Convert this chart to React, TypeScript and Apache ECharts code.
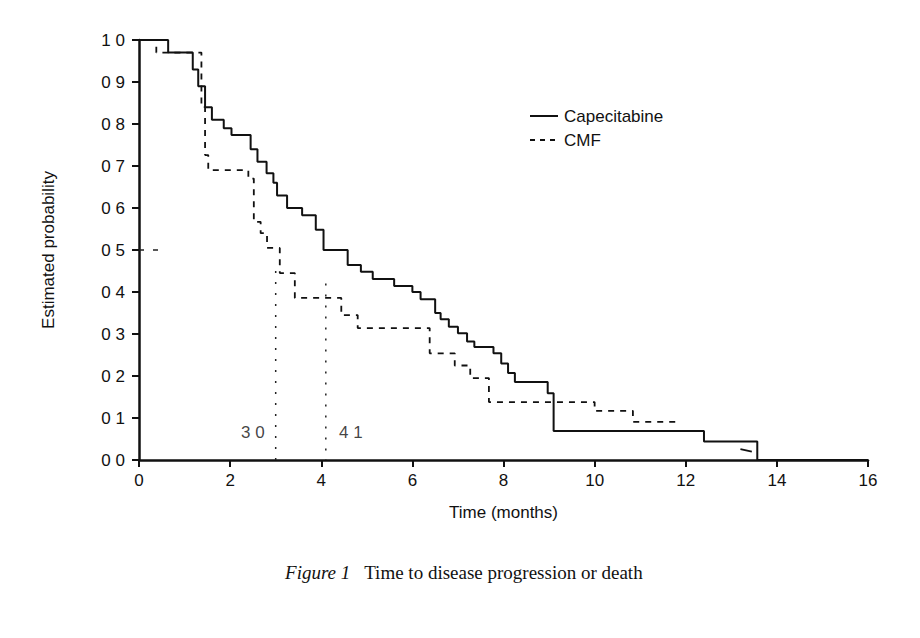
import { useEffect, useRef } from "react";
import * as echarts from "echarts";

// Kaplan-Meier steps: [time in months, probability from that time on]
const capecitabine: [number, number][] = [
  [0, 1.0], [0.64, 0.97], [1.18, 0.93], [1.3, 0.89], [1.45, 0.84], [1.6, 0.81], [1.86, 0.79],
  [2.03, 0.774], [2.45, 0.74], [2.6, 0.71], [2.8, 0.683], [2.95, 0.66], [3.03, 0.63],
  [3.25, 0.6], [3.58, 0.583], [3.88, 0.548], [4.05, 0.5], [4.58, 0.464], [4.87, 0.448],
  [5.13, 0.431], [5.6, 0.414], [6.0, 0.4], [6.18, 0.383], [6.5, 0.35], [6.62, 0.335],
  [6.8, 0.317], [7.0, 0.302], [7.2, 0.282], [7.36, 0.269], [7.78, 0.254], [7.95, 0.23],
  [8.1, 0.207], [8.25, 0.186], [8.97, 0.159], [9.1, 0.069], [12.4, 0.044], [13.57, 0.0],
  [16, 0.0],
];
const cmf: [number, number][] = [
  [0, 1.0], [0.38, 0.97], [1.37, 0.84], [1.45, 0.726], [1.52, 0.69], [2.4, 0.67],
  [2.52, 0.567], [2.67, 0.54], [2.81, 0.505], [3.09, 0.445], [3.42, 0.386], [4.44, 0.345],
  [4.8, 0.314], [6.38, 0.254], [6.93, 0.225], [7.27, 0.195], [7.68, 0.138], [10.0, 0.117],
  [10.84, 0.091], [11.82, 0.091],
];
const cmfTail: [number, number][] = [[13.2, 0.026], [13.45, 0.02]];
const medianCape = 4.1;
const medianCmf = 3.0;
const medianLabels = ["3 0", "4 1"];
const legendNames = ["Capecitabine", "CMF"];

export default function App() {
  const ref = useRef<HTMLDivElement>(null);

  useEffect(() => {
    if (!ref.current) return;
    const chart = echarts.init(ref.current, null, { renderer: "svg" });
    const font = "Liberation Sans";
    const dotted = { color: "#222", width: 1.5, type: [2, 9] as any };
    const legendItem = (name: string, i: number, dash: boolean) => [
      {
        type: "line", shape: { x1: 522, y1: 108 + i * 24, x2: 550, y2: 108 + i * 24 },
        style: { stroke: "#111", lineWidth: dash ? 1.8 : 2, lineDash: dash ? [5, 5] : null },
      },
      {
        type: "text", x: 556, y: 108 + i * 24,
        style: { text: name, font: `17px '${font}'`, fill: "#111", textVerticalAlign: "middle" },
      },
    ];
    chart.setOption({
      animation: false,
      textStyle: { fontFamily: font },
      grid: { left: 131, right: 52, top: 32, bottom: 178 },
      xAxis: {
        type: "value", min: 0, max: 16, interval: 2,
        name: "Time (months)", nameLocation: "middle", nameGap: 44,
        nameTextStyle: { fontSize: 17, color: "#111", fontFamily: font },
        axisLine: { lineStyle: { color: "#111", width: 2.5 } },
        axisTick: { length: 7, lineStyle: { color: "#111", width: 2 } },
        axisLabel: { fontSize: 17, color: "#111", margin: 12 },
        splitLine: { show: false },
      },
      yAxis: {
        type: "value", min: 0, max: 1, interval: 0.1,
        name: "Estimated probability", nameLocation: "middle", nameGap: 82,
        nameTextStyle: { fontSize: 17, color: "#111", fontFamily: font },
        axisLine: { show: true, lineStyle: { color: "#111", width: 2.5 } },
        axisTick: { show: true, length: 7, lineStyle: { color: "#111", width: 2 } },
        axisLabel: {
          fontSize: 17, color: "#111", margin: 14,
          formatter: (v: number) => v.toFixed(1).replace(".", " "),
        },
        splitLine: { show: false },
      },
      graphic: [
        ...legendItem(legendNames[0], 0, false),
        ...legendItem(legendNames[1], 1, true),
        {
          type: "text", left: "center", top: 555,
          style: {
            text: "{i|Figure 1}   Time to disease progression or death",
            font: "19px 'Liberation Serif'", fill: "#111",
            rich: { i: { fontStyle: "italic", fontFamily: "Liberation Serif", fontSize: 19 } },
          },
        },
      ],
      series: [
        {
          name: "Capecitabine", type: "line", step: "end", data: capecitabine,
          symbol: "none", lineStyle: { color: "#111", width: 2 },
        },
        {
          name: "CMF", type: "line", step: "end", data: cmf,
          symbol: "none", lineStyle: { color: "#111", width: 1.8, type: [6, 6] },
        },
        {
          name: "cmfTail", type: "line", data: cmfTail, symbol: "none",
          lineStyle: { color: "#111", width: 1.8 },
        },
        {
          name: "m50", type: "line", data: [[0, 0.5], [0.5, 0.5]], symbol: "none",
          lineStyle: { ...dotted, type: [5, 9] },
        },
        {
          name: "mCmf", type: "line", data: [[medianCmf, 0.45], [medianCmf, 0]], symbol: "none",
          lineStyle: dotted,
        },
        {
          name: "mCape", type: "line", data: [[medianCape, 0.42], [medianCape, 0]], symbol: "none",
          lineStyle: dotted,
        },
        {
          name: "medianLabels", type: "scatter", symbolSize: 0, silent: true,
          data: [
            { value: [medianCmf - 0.5, 0.065], label: { formatter: medianLabels[0] } },
            { value: [medianCape + 0.55, 0.065], label: { formatter: medianLabels[1] } },
          ],
          label: { show: true, position: "inside", fontSize: 17, color: "#111", fontFamily: font },
        },
      ],
    });
    return () => chart.dispose();
  }, []);

  return <div ref={ref} style={{ width: 912, height: 630 }} />;
}
